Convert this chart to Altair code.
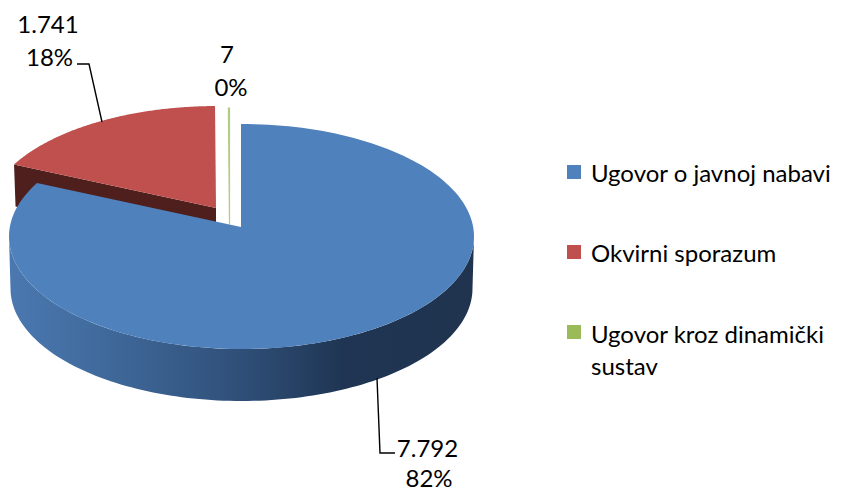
import math
import altair as alt
import pandas as pd

# ---- chart values ----
categories = ["Ugovor o javnoj nabavi", "Okvirni sporazum", "Ugovor kroz dinamički sustav"]
values = [7792, 1741, 7]
value_labels = ["7.792", "1.741", "7"]
percent_labels = ["82%", "18%", "0%"]
colors = ["#4F81BD", "#C0504D", "#9BBB59"]

# ---- layout of the tilted pie (page pixels) ----
CX, CY, RX, RY = 241.5, 236.5, 232.5, 112.5
APEX = (241.0, 227.0)
DEPTH = 52
RED_APEX, RED_SCALE = (216.0, 208.0), 0.99
GREEN_APEX, GREEN_SCALE = (229.5, 224.5), 1.13
FONT = "Lato"
FS = 24
W, H = 827, 476

total = sum(values)
fractions = [v / total for v in values]
cum = [0.0]
for f in fractions:
    cum.append(cum[-1] + f)


def rim(frac):
    """Point of the tilted rim (relative to the apex) at a cumulative share of the pie."""
    th = 2 * math.pi * frac
    dx, dy = math.sin(th) * RX, -math.cos(th) * RY
    ox, oy = APEX[0] - CX, APEX[1] - CY
    a = (dx / RX) ** 2 + (dy / RY) ** 2
    b = 2 * (ox * dx / RX**2 + oy * dy / RY**2)
    c = (ox / RX) ** 2 + (oy / RY) ** 2 - 1
    s = (-b + math.sqrt(b * b - 4 * a * c)) / (2 * a)
    return s * dx + ox + CX - APEX[0], s * dy + oy + CY - APEX[1]


def sector(f0, f1, apex, scale, n=160):
    pts = [list(apex)]
    for i in range(n + 1):
        x, y = rim(f0 + (f1 - f0) * i / n)
        pts.append([apex[0] + x * scale, apex[1] + y * scale])
    pts.append(list(apex))
    return pts


def shape(pts):
    return alt.Data(values=[{"type": "Feature", "properties": {},
                             "geometry": {"type": "Polygon", "coordinates": [pts]}}])


PROJ = dict(type="identity", scale=1, translate=[-8, -8])


def poly(pts, **kw):
    return alt.Chart(shape(pts)).mark_geoshape(strokeWidth=0, **kw).project(**PROJ)


# outer side of the blue slice
low_arc = [[CX - RX * math.cos(math.pi * i / 120), CY + RY * math.sin(math.pi * i / 120)] for i in range(121)]
bottom_arc = [[CX + (RX - 1.5) * math.cos(math.pi * i / 120), CY + DEPTH + RY * math.sin(math.pi * i / 120)] for i in range(121)]
side_pts = low_arc + bottom_arc + [low_arc[0]]
side_fill = alt.Gradient(
    gradient="linear", x1=0, x2=1, y1=0, y2=0,
    stops=[
        alt.GradientStop(offset=0, color="#4A78B0"),
        alt.GradientStop(offset=0.2, color="#406A9C"),
        alt.GradientStop(offset=0.5, color="#2F4F78"),
        alt.GradientStop(offset=0.72, color="#1F3553"),
        alt.GradientStop(offset=1, color="#20344F"),
    ],
)
side = poly(side_pts, fill=side_fill)

# inner wall of the red slice
tip = sector(cum[1], cum[2], RED_APEX, RED_SCALE)[1]
wall_pts = [list(RED_APEX), tip, [tip[0] + 1.5, tip[1] + 42], [RED_APEX[0], RED_APEX[1] + 42], list(RED_APEX)]
wall = poly(wall_pts, fill="#4F1F1D")

blue = poly(sector(cum[0], cum[1], APEX, 1), fill=colors[0])
red = poly(sector(cum[1], cum[2], RED_APEX, RED_SCALE), fill=colors[1])
green = (
    alt.Chart(shape(sector(cum[2], cum[3], GREEN_APEX, GREEN_SCALE, n=4)))
    .mark_geoshape(fill=colors[2], stroke=colors[2], strokeWidth=1.2, opacity=0.75)
    .project(**PROJ)
)

# ---- leader lines ----
leaders = pd.DataFrame({
    "id": [0, 0, 0, 1, 1, 1],
    "px": [377 - 8, 380 - 8, 395 - 8, 77 - 8, 89 - 8, 102 - 8],
    "py": [378 - 8, 453 - 8, 453 - 8, 64 - 8, 64 - 8, 122 - 8],
    "o": [0, 1, 2, 0, 1, 2],
})
leader_lines = alt.Chart(leaders).mark_line(color="#000000", strokeWidth=1.4).encode(
    x=alt.X("px:Q", scale=None), y=alt.Y("py:Q", scale=None), detail="id:N", order="o:Q"
)

# ---- text ----
label_rows = [
    (value_labels[0], 427.5, 457), (percent_labels[0], 429, 487),
    (value_labels[1], 48, 33), (percent_labels[1], 49.5, 66),
    (value_labels[2], 227, 63), (percent_labels[2], 231, 96),
]
labels = pd.DataFrame({
    "t": [r[0] for r in label_rows],
    "px": [r[1] - 8 for r in label_rows],
    "py": [r[2] - 8 for r in label_rows],
})
label_text = alt.Chart(labels).mark_text(
    font=FONT, fontSize=FS, align="center", baseline="alphabetic", color="#000000"
).encode(x=alt.X("px:Q", scale=None), y=alt.Y("py:Q", scale=None), text="t:N")

legend_sq = pd.DataFrame({"cat": categories, "px": [574 - 8] * 3, "py": [172 - 8, 252 - 8, 332 - 8]})
squares = alt.Chart(legend_sq).mark_square(size=196, opacity=1).encode(
    x=alt.X("px:Q", scale=None), y=alt.Y("py:Q", scale=None),
    color=alt.Color("cat:N", scale=alt.Scale(domain=categories, range=colors), legend=None),
)
legend_lines = pd.DataFrame({
    "t": [categories[0], categories[1], "Ugovor kroz dinamički", "sustav"],
    "px": [591 - 8] * 4,
    "py": [182 - 8, 262 - 8, 343 - 8, 375 - 8],
})
legend_text = alt.Chart(legend_lines).mark_text(
    font=FONT, fontSize=FS, align="left", baseline="alphabetic", color="#000000"
).encode(x=alt.X("px:Q", scale=None), y=alt.Y("py:Q", scale=None), text="t:N")

chart = alt.layer(
    wall, red, green, side, blue, leader_lines, label_text, squares, legend_text
).properties(width=W, height=H, padding=0, background="white").configure_view(stroke=None)

chart.save("out.html", embed_options={"renderer": "svg", "actions": False})
